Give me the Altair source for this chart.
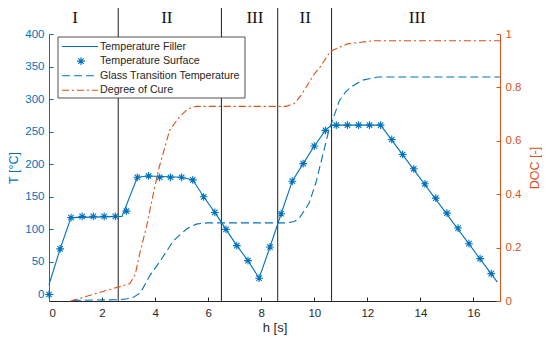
import altair as alt
import pandas as pd

# ---------------- data ----------------
star_h = [0, 0.42, 0.83, 1.25, 1.67, 2.08, 2.5, 2.92, 3.33, 3.75, 4.17, 4.58, 5.0, 5.42,
          5.83, 6.25, 6.67, 7.08, 7.5, 7.92, 8.33, 8.75, 9.17, 9.58, 10.0, 10.42, 10.83,
          11.25, 11.67, 12.08, 12.5, 12.92, 13.33, 13.75, 14.17, 14.58, 15.0, 15.42, 15.83,
          16.25, 16.67]
star_T = [0, 70, 118, 120, 120, 120, 120, 128, 180, 182, 180, 180, 180, 176,
          150, 126, 100, 75, 52, 25, 73, 124, 174, 201, 228, 252, 260,
          260, 260, 260, 260, 238, 215, 193, 170, 148, 125, 102, 78,
          55, 32]

fill_h = [0, 0.42, 0.83, 2.75, 3.33, 3.75, 5.0, 5.42, 5.83, 6.25, 6.67, 7.08, 7.5, 7.92,
          8.33, 8.75, 9.17, 9.58, 10.0, 10.42, 10.65, 12.5, 16.9]
fill_T = [15, 70, 118, 120, 180, 182, 180, 176, 150, 126, 100, 75, 52, 25,
          73, 124, 174, 201, 228, 252, 260, 260, 19]

tg_h = [0.9, 2.65, 2.95, 3.2, 3.45, 3.8, 4.2, 4.7, 5.2, 5.55, 5.95, 8.95, 9.25, 9.45,
        9.8, 10.05, 10.3, 10.55, 10.95, 11.2, 11.4, 11.8, 12.4, 17]
tg_T = [-9, -8, -6.5, -4, 3, 29, 52, 83, 101, 108, 110, 110, 112, 118,
        140, 170, 211, 252, 298, 312, 319, 329, 334, 334]

doc_h = [0.82, 3.05, 3.25, 3.45, 3.68, 3.95, 4.15, 4.35, 4.55, 4.92, 5.25, 5.55, 8.95,
         9.25, 9.5, 9.75, 10.0, 10.25, 10.6, 11.25, 12.25, 17]
doc_v = [0.0, 0.065, 0.1, 0.19, 0.28, 0.41, 0.5, 0.57, 0.64, 0.69, 0.72, 0.729, 0.729,
         0.74, 0.77, 0.81, 0.85, 0.88, 0.935, 0.963, 0.975, 0.975]

region_h = [2.61, 6.5, 8.62, 10.65]
roman_labels = ["I", "II", "III", "II", "III"]
roman_h = [0.98, 4.44, 7.76, 9.66, 13.88]

legend_labels = ["Temperature Filler", "Temperature Surface",
                 "Glass Transition Temperature", "Degree of Cure"]

x_ticks = [0, 2, 4, 6, 8, 10, 12, 14, 16]
t_ticks = [0, 50, 100, 150, 200, 250, 300, 350, 400]
doc_ticks = [0, 0.2, 0.4, 0.6, 0.8, 1]

# ---------------- styling ----------------
BLUE = "#0072BD"
ORANGE = "#D95319"
DARK = "#262626"
FONT = "Liberation Sans"
W, H = 451, 267

stars_df = pd.DataFrame({"h": star_h, "T": star_T})
fill_df = pd.DataFrame({"h": fill_h, "T": fill_T})
tg_df = pd.DataFrame({"h": tg_h, "T": tg_T})
doc_df = pd.DataFrame({"h": doc_h, "DOC": doc_v})
reg_df = pd.DataFrame({"h": region_h})
rom_df = pd.DataFrame({"h": roman_h, "label": roman_labels})
leg_df = pd.DataFrame({"label": legend_labels, "row": list(range(len(legend_labels)))})

xscale = alt.Scale(domain=[0, 17], nice=False, zero=False)
tscale = alt.Scale(domain=[-10, 400], nice=False, zero=False)
dscale = alt.Scale(domain=[0, 1], nice=False)

x_main_axis = alt.Axis(values=x_ticks, title="h [s]", ticks=False, grid=False,
                       domainColor=DARK, labelColor=DARK, titleColor=DARK,
                       labelFont=FONT, labelFontSize=11.5, titleFont=FONT,
                       titleFontSize=13, titleFontWeight="normal", labelPadding=6,
                       titlePadding=3)
x_tick_axis = alt.Axis(values=x_ticks, orient="top", offset=-H, labels=False,
                       domain=False, title=None, tickColor=DARK, tickSize=4, grid=False)

xT = alt.X("h:Q", scale=xscale, axis=x_main_axis)
xD = alt.X("h:Q", scale=xscale, axis=x_tick_axis)

t_main_axis = alt.Axis(values=t_ticks, title="T [°C]", ticks=False, grid=False,
                       domainColor=BLUE, labelColor=BLUE, titleColor=BLUE,
                       labelFont=FONT, labelFontSize=11.5, titleFont=FONT,
                       titleFontSize=12.5, titleFontWeight="normal", labelPadding=5,
                       titlePadding=4)
t_tick_axis = alt.Axis(values=t_ticks, orient="right", offset=-W, labels=False,
                       domain=False, title=None, tickColor=BLUE, tickSize=4, grid=False)

d_main_axis = alt.Axis(values=doc_ticks, title="DOC [-]", orient="right", ticks=False,
                       grid=False, format=".1~f",
                       domainColor=ORANGE, labelColor=ORANGE, titleColor=ORANGE,
                       labelFont=FONT, labelFontSize=11.5, titleFont=FONT,
                       titleFontSize=12.5, titleFontWeight="normal", labelPadding=5,
                       titlePadding=21, titleAngle=270)
d_tick_axis = alt.Axis(values=doc_ticks, orient="left", offset=-W, labels=False,
                       domain=False, title=None, tickColor=ORANGE, tickSize=4, grid=False)

# ---------------- T group ----------------
regions = alt.Chart(reg_df).mark_rule(color="#333333", strokeWidth=1.1).encode(
    x=xT, y=alt.value(-26), y2=alt.value(H))

romans = alt.Chart(rom_df).mark_text(font="Liberation Serif", fontSize=17,
                                     color="#111111", baseline="alphabetic").encode(
    x=xT, y=alt.value(-11), text="label:N")

tg_line = alt.Chart(tg_df).mark_line(color=BLUE, strokeWidth=1.1,
                                     strokeDash=[8, 4]).encode(
    x=xT, y=alt.Y("T:Q", scale=tscale, axis=t_main_axis))

fill_line = alt.Chart(fill_df).mark_line(color=BLUE, strokeWidth=1.1).encode(
    x=xT, y=alt.Y("T:Q", scale=tscale, axis=t_tick_axis))

STAR = "M0,-1L0,1M-1,0L1,0M-0.7,-0.7L0.7,0.7M-0.7,0.7L0.7,-0.7"
stars = alt.Chart(stars_df).mark_point(shape=STAR, size=60, filled=False,
                                       color=BLUE, strokeWidth=1.1, opacity=1).encode(
    x=xT, y=alt.Y("T:Q", scale=tscale, axis=None))

t_group = alt.layer(regions, romans, tg_line, fill_line, stars).resolve_axis(y="independent")

# ---------------- DOC group ----------------
doc_line = alt.Chart(doc_df).mark_line(color=ORANGE, strokeWidth=1.1,
                                       strokeDash=[7, 3, 2, 3]).encode(
    x=xD, y=alt.Y("DOC:Q", scale=dscale, axis=d_main_axis))
doc_ticks_layer = alt.Chart(doc_df).mark_line(opacity=0).encode(
    x=xD, y=alt.Y("DOC:Q", scale=dscale, axis=d_tick_axis))

# ---------------- manual legend ----------------
one = pd.DataFrame({"a": [0]})
LX0, LX1, LY0, LY1 = 9, 196, 3, 64
ROW0, ROWSTEP = 12.5, 14.6
box = alt.Chart(one).mark_rect(fill="white", stroke=DARK, strokeWidth=0.8).encode(
    x=alt.value(LX0), x2=alt.value(LX1), y=alt.value(LY0), y2=alt.value(LY1))
leg_l1 = alt.Chart(one).mark_rule(color=BLUE, strokeWidth=1.1).encode(
    x=alt.value(13), x2=alt.value(49), y=alt.value(ROW0))
leg_star = alt.Chart(one).mark_point(shape=STAR, size=60, filled=False, color=BLUE,
                                     strokeWidth=1.1, opacity=1).encode(
    x=alt.value(32), y=alt.value(ROW0 + ROWSTEP))
leg_l3 = alt.Chart(one).mark_rule(color=BLUE, strokeWidth=1.1, strokeDash=[8, 4]).encode(
    x=alt.value(13), x2=alt.value(49), y=alt.value(ROW0 + 2 * ROWSTEP))
leg_l4 = alt.Chart(one).mark_rule(color=ORANGE, strokeWidth=1.1,
                                  strokeDash=[7, 3, 2, 3]).encode(
    x=alt.value(13), x2=alt.value(49), y=alt.value(ROW0 + 3 * ROWSTEP))
leg_text = alt.Chart(leg_df).transform_calculate(
    py=f"{ROW0} + datum.row * {ROWSTEP}").mark_text(
    font=FONT, fontSize=10.7, color=DARK, align="left", baseline="middle").encode(
    x=alt.value(51), y=alt.Y("py:Q", scale=None, axis=None), text="label:N")

d_group = alt.layer(doc_line, doc_ticks_layer, box, leg_l1, leg_star, leg_l3, leg_l4,
                    leg_text).resolve_axis(y="independent")

chart = alt.layer(t_group, d_group).resolve_scale(y="independent").resolve_axis(
    x="independent").properties(
    width=W, height=H,
    background="white",
    autosize=alt.AutoSizeParams(type="none"),
    padding={"left": 41, "top": 26, "right": 42, "bottom": 36},
).configure_view(strokeWidth=0, stroke="transparent")

chart.save("out.html", embed_options={"renderer": "svg", "actions": False})
